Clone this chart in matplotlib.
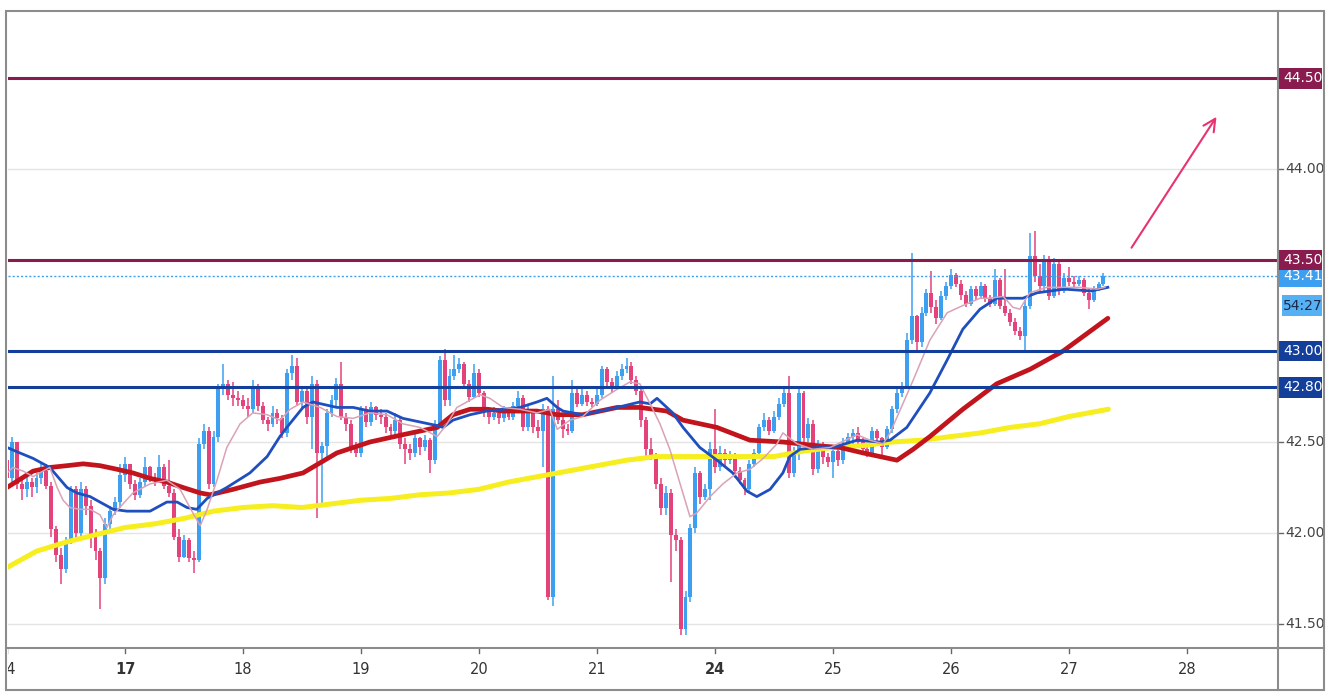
import matplotlib
matplotlib.use("Agg")
import matplotlib.pyplot as plt
from matplotlib.patches import Rectangle
from matplotlib.lines import Line2D
import numpy as np

# hourly candles, index 0 = first hour of the 14th
first_open = 42.40
closes = [
    # 14
    42.30, 42.50, 42.27, 42.24, 42.28, 42.25, 42.30, 42.34, 42.26, 42.02, 41.88, 41.80,
    41.96, 42.24, 42.00, 42.24, 42.15, 41.98, 41.90, 41.75, 42.05, 42.12, 42.17, 42.32,
    # 17
    42.38, 42.27, 42.21, 42.28, 42.36, 42.31, 42.29, 42.36, 42.26, 42.22, 41.98, 41.87,
    41.96, 41.86, 41.85, 42.49, 42.56, 42.27, 42.53, 42.80, 42.82, 42.76, 42.74, 42.73,
    # 18
    42.70, 42.68, 42.80, 42.70, 42.62, 42.60, 42.66, 42.63, 42.55, 42.88, 42.92, 42.72,
    42.78, 42.64, 42.82, 42.44, 42.48, 42.66, 42.73, 42.82, 42.64, 42.60, 42.47, 42.44,
    # 19
    42.68, 42.61, 42.69, 42.65, 42.64, 42.58, 42.56, 42.62, 42.49, 42.46, 42.44, 42.52,
    42.47, 42.51, 42.40, 42.60, 42.95, 42.73, 42.86, 42.90, 42.93, 42.82, 42.75, 42.88,
    # 20
    42.77, 42.67, 42.64, 42.66, 42.63, 42.68, 42.64, 42.70, 42.74, 42.58, 42.66, 42.58,
    42.56, 42.68, 41.65, 42.68, 42.62, 42.57, 42.56, 42.77, 42.71, 42.76, 42.72, 42.71,
    # 21
    42.76, 42.90, 42.83, 42.80, 42.86, 42.90, 42.92, 42.84, 42.78, 42.62, 42.46, 42.42,
    42.27, 42.14, 42.22, 41.99, 41.96, 41.47, 41.65, 42.03, 42.33, 42.20, 42.24, 42.46,
    # 24
    42.36, 42.44, 42.40, 42.42, 42.34, 42.29, 42.24, 42.38, 42.44, 42.58, 42.62, 42.56,
    42.64, 42.71, 42.77, 42.33, 42.44, 42.77, 42.52, 42.60, 42.35, 42.48, 42.42, 42.39,
    # 25
    42.45, 42.40, 42.49, 42.53, 42.55, 42.50, 42.46, 42.44, 42.56, 42.52, 42.47, 42.57,
    42.68, 42.77, 42.81, 43.06, 43.19, 43.05, 43.21, 43.32, 43.24, 43.18, 43.30, 43.36,
    # 26
    43.42, 43.37, 43.31, 43.26, 43.34, 43.30, 43.36, 43.29, 43.26, 43.39, 43.25, 43.21,
    43.16, 43.11, 43.08, 43.25, 43.52, 43.41, 43.36, 43.50, 43.30, 43.48, 43.33, 43.40,
    # 27
    43.38, 43.37, 43.39, 43.32, 43.28, 43.34, 43.37, 43.41,
]
highs = [
    42.45, 42.53, 42.50, 42.30, 42.32, 42.30, 42.33, 42.38, 42.38, 42.28, 42.04, 41.92,
    41.98, 42.26, 42.26, 42.28, 42.26, 42.18, 42.02, 41.92, 42.08, 42.15, 42.20, 42.38,
    42.42, 42.38, 42.29, 42.30, 42.42, 42.37, 42.33, 42.43, 42.38, 42.40, 42.24, 42.02,
    41.99, 41.97, 41.90, 42.52, 42.60, 42.58, 42.56, 42.82, 42.93, 42.84, 42.83, 42.78,
    42.76, 42.74, 42.84, 42.82, 42.72, 42.64, 42.70, 42.68, 42.65, 42.90, 42.98, 42.96,
    42.80, 42.79, 42.86, 42.84, 42.50, 42.68, 42.76, 42.85, 42.94, 42.66, 42.62, 42.50,
    42.70, 42.70, 42.72, 42.70, 42.68, 42.66, 42.60, 42.66, 42.63, 42.52, 42.49, 42.55,
    42.53, 42.54, 42.52, 42.62, 42.97, 43.01, 42.90, 42.98, 42.96, 42.94, 42.84, 42.93,
    42.90, 42.78, 42.69, 42.69, 42.68, 42.70, 42.69, 42.72, 42.78, 42.76, 42.70, 42.68,
    42.62, 42.71, 42.70, 42.86, 42.73, 42.66, 42.60, 42.84, 42.79, 42.80, 42.78, 42.74,
    42.79, 42.92, 42.91, 42.85, 42.89, 42.93, 42.96, 42.94, 42.86, 42.80, 42.64, 42.52,
    42.44, 42.30, 42.26, 42.24, 42.02, 41.98, 41.68, 42.05, 42.36, 42.34, 42.27, 42.50,
    42.68, 42.48, 42.46, 42.45, 42.44, 42.36, 42.30, 42.40, 42.46, 42.60, 42.66, 42.64,
    42.67, 42.74, 42.80, 42.86, 42.47, 42.80, 42.78, 42.63, 42.62, 42.51, 42.50, 42.44,
    42.48, 42.47, 42.52, 42.55, 42.57, 42.58, 42.52, 42.48, 42.58, 42.57, 42.53, 42.59,
    42.70, 42.79, 42.83, 43.10, 43.54, 43.20, 43.24, 43.34, 43.44, 43.28, 43.33, 43.38,
    43.45, 43.43, 43.39, 43.33, 43.36, 43.36, 43.38, 43.37, 43.31, 43.45, 43.40, 43.45,
    43.23, 43.18, 43.13, 43.28, 43.65, 43.66, 43.48, 43.53, 43.52, 43.51, 43.49, 43.43,
    43.46, 43.41, 43.41, 43.40, 43.34, 43.36, 43.38, 43.43,
]
lows = [
    42.25, 42.27, 42.24, 42.18, 42.20, 42.20, 42.22, 42.27, 42.24, 41.98, 41.84, 41.72,
    41.78, 41.94, 41.96, 41.96, 42.10, 41.92, 41.85, 41.58, 41.72, 42.02, 42.10, 42.14,
    42.28, 42.24, 42.18, 42.19, 42.26, 42.28, 42.26, 42.28, 42.24, 42.20, 41.96, 41.84,
    41.86, 41.84, 41.78, 41.84, 42.46, 42.24, 42.25, 42.50, 42.76, 42.73, 42.70, 42.70,
    42.68, 42.64, 42.66, 42.67, 42.60, 42.56, 42.58, 42.60, 42.52, 42.53, 42.84, 42.70,
    42.68, 42.60, 42.46, 42.08, 42.15, 42.42, 42.64, 42.70, 42.62, 42.56, 42.44, 42.42,
    42.42, 42.58, 42.59, 42.62, 42.60, 42.55, 42.52, 42.54, 42.46, 42.38, 42.40, 42.42,
    42.43, 42.45, 42.33, 42.38, 42.58, 42.70, 42.70, 42.84, 42.88, 42.80, 42.72, 42.74,
    42.75, 42.64, 42.60, 42.62, 42.60, 42.61, 42.62, 42.62, 42.68, 42.56, 42.56, 42.55,
    42.52, 42.36, 41.63, 41.60, 42.60, 42.52, 42.54, 42.55, 42.69, 42.70, 42.70, 42.69,
    42.70, 42.74, 42.80, 42.77, 42.79, 42.84, 42.88, 42.82, 42.76, 42.58, 42.42, 42.40,
    42.24, 42.10, 42.10, 41.73, 41.90, 41.44, 41.44, 41.62, 42.00, 42.16, 42.18, 42.18,
    42.33, 42.34, 42.36, 42.38, 42.30, 42.27, 42.21, 42.22, 42.36, 42.42, 42.56, 42.54,
    42.55, 42.62, 42.69, 42.30, 42.31, 42.40, 42.48, 42.50, 42.32, 42.33, 42.38, 42.36,
    42.30, 42.37, 42.38, 42.45, 42.49, 42.48, 42.44, 42.42, 42.43, 42.50, 42.43, 42.46,
    42.55, 42.66, 42.75, 42.79, 43.04, 42.99, 43.02, 43.19, 43.21, 43.15, 43.17, 43.28,
    43.34, 43.35, 43.28, 43.24, 43.25, 43.28, 43.29, 43.27, 43.24, 43.25, 43.23, 43.19,
    43.14, 43.09, 43.06, 42.99, 43.23, 43.38, 43.33, 43.33, 43.28, 43.29, 43.31, 43.32,
    43.36, 43.35, 43.36, 43.30, 43.23, 43.27, 43.33, 43.36,
]

# moving averages (candle index -> price)
yellow_idx = [0, 6, 12, 18, 24, 30, 36, 42, 48, 54, 60, 66, 72, 78, 84, 90, 96, 102, 108,
              114, 120, 126, 132, 138, 144, 150, 156, 162, 168, 174, 180, 186, 192, 198,
              204, 210, 216, 222, 224]
ma_yellow = [41.81, 41.90, 41.95, 41.99, 42.03, 42.05, 42.08, 42.12, 42.14, 42.15, 42.14,
             42.16, 42.18, 42.19, 42.21, 42.22, 42.24, 42.28, 42.31, 42.34, 42.37, 42.40,
             42.42, 42.42, 42.42, 42.42, 42.42, 42.45, 42.47, 42.48, 42.50, 42.51, 42.53,
             42.55, 42.58, 42.60, 42.64, 42.67, 42.68]
red_idx = [0, 5.3, 8.7, 12.2, 15.5, 18.9, 22.4, 25.6, 29.1, 32.5, 35.8, 39.3, 41.3, 46.0,
           51.5, 55.5, 60.2, 67.1, 73.8, 80.5, 87.5, 90.7, 94.2, 97.6, 100.9, 107.8,
           111.9, 117.1, 124.1, 128.7, 134.2, 137.5, 144.4, 151.1, 157.8, 164.7, 169.4,
           174.1, 181.0, 184.3, 187.7, 194.4, 201.3, 208.1, 214.8, 223.9]
ma_red = [42.25, 42.34, 42.36, 42.37, 42.38, 42.37, 42.35, 42.33, 42.30, 42.28, 42.25,
          42.22, 42.21, 42.24, 42.28, 42.30, 42.33, 42.44, 42.50, 42.54, 42.58, 42.65,
          42.68, 42.68, 42.67, 42.67, 42.65, 42.65, 42.69, 42.69, 42.67, 42.62, 42.58,
          42.51, 42.50, 42.48, 42.47, 42.44, 42.40, 42.46, 42.53, 42.68, 42.82, 42.90,
          43.00, 43.18]
blue_idx = [0, 2.6, 5.3, 8.7, 12.2, 14.2, 16.9, 18.9, 21.6, 24.4, 29.1, 32.5, 34.6, 36.6,
            38.6, 40.7, 44.7, 49.4, 52.9, 55.5, 56.9, 60.2, 62.2, 67.1, 70.4, 73.8, 77.3,
            80.5, 84.0, 87.5, 88.7, 90.7, 94.2, 97.6, 100.9, 104.3, 107.8, 109.8, 111.9,
            113.1, 117.1, 124.1, 128.7, 130.8, 132.2, 135.4, 137.5, 140.9, 144.4, 147.6,
            150.5, 152.5, 155.2, 157.8, 159.2, 161.3, 164.7, 168.0, 172.9, 177.5, 179.6,
            183.0, 187.7, 191.2, 194.4, 197.9, 201.3, 204.6, 206.6, 209.5, 215.0, 220.5,
            223.9]
ma_blue = [42.47, 42.44, 42.41, 42.36, 42.25, 42.22, 42.20, 42.17, 42.13, 42.12, 42.12,
           42.17, 42.17, 42.14, 42.13, 42.19, 42.25, 42.33, 42.42, 42.53, 42.58, 42.69,
           42.72, 42.69, 42.69, 42.67, 42.67, 42.63, 42.61, 42.59, 42.58, 42.62, 42.65,
           42.67, 42.68, 42.69, 42.72, 42.74, 42.69, 42.67, 42.65, 42.69, 42.72, 42.71,
           42.74, 42.66, 42.58, 42.47, 42.40, 42.33, 42.23, 42.20, 42.24, 42.33, 42.42,
           42.46, 42.47, 42.47, 42.51, 42.50, 42.51, 42.58, 42.77, 42.95, 43.12, 43.23,
           43.29, 43.29, 43.29, 43.32, 43.34, 43.33, 43.35]
pink_idx = [0, 1.2, 3.3, 5.3, 7.3, 8.7, 10.2, 11.4, 12.8, 14.8, 16.9, 18.9, 20.3, 21.6,
            23.6, 25.6, 29.1, 32.5, 35.2, 37.8, 39.3, 40.7, 42.7, 44.7, 47.4, 50.0, 52.9,
            55.5, 57.6, 60.2, 63.7, 67.1, 70.4, 73.8, 77.3, 80.5, 84.0, 87.5, 89.5, 91.5,
            94.2, 96.2, 98.2, 100.9, 104.3, 107.8, 110.4, 111.9, 114.5, 117.1, 120.6,
            124.1, 126.7, 128.7, 130.8, 132.8, 134.8, 136.9, 138.9, 140.3, 143.0, 145.6,
            148.5, 151.1, 153.8, 156.6, 157.8, 160.7, 163.9, 167.4, 172.9, 175.5, 178.2,
            179.6, 182.2, 184.3, 187.7, 191.2, 194.4, 197.9, 199.9, 202.6, 204.6, 206.0,
            208.0, 211.5, 214.8, 218.2, 221.7, 223.3]
ma_pink = [42.33, 42.36, 42.34, 42.31, 42.34, 42.36, 42.25, 42.18, 42.14, 42.13, 42.13,
           42.10, 42.03, 42.10, 42.16, 42.22, 42.27, 42.29, 42.24, 42.11, 42.04, 42.13,
           42.29, 42.47, 42.60, 42.66, 42.65, 42.62, 42.68, 42.72, 42.69, 42.64, 42.63,
           42.66, 42.65, 42.60, 42.58, 42.53, 42.60, 42.69, 42.73, 42.76, 42.74, 42.69,
           42.68, 42.66, 42.68, 42.57, 42.62, 42.64, 42.73, 42.79, 42.83, 42.82, 42.71,
           42.60, 42.46, 42.27, 42.09, 42.11, 42.20, 42.27, 42.33, 42.35, 42.41, 42.49,
           42.55, 42.49, 42.46, 42.47, 42.54, 42.51, 42.49, 42.55, 42.71, 42.84, 43.06,
           43.21, 43.25, 43.29, 43.29, 43.30, 43.24, 43.23, 43.32, 43.35, 43.35, 43.35,
           43.34, 43.35]

day_labels = ["14", "17", "18", "19", "20", "21", "24", "25", "26", "27", "28"]
day_start = [0, 24, 48, 72, 96, 120, 144, 168, 192, 216, 240]
week_start = ["17", "24"]

levels_red = [44.50, 43.50]
levels_blue = [43.00, 42.80]
plain_ticks = [44.00, 42.50, 42.00, 41.50]
grid_levels = [41.5, 42.0, 42.5, 43.0, 43.5, 44.0, 44.5]
last_price = 43.41
countdown = "54:27"
arrow_from = (228.4, 43.555)
arrow_to = (246.3, 44.30)

up_col = "#3d9ff0"
down_col = "#e4427a"
maroon = "#8a1b4f"
navy = "#133f9a"
fonts = ["Liberation Sans Narrow", "DejaVu Sans"]

W, H = 1332, 698
fig = plt.figure(figsize=(W / 100, H / 100), dpi=100)
fig.patch.set_facecolor("white")


def fx(px):
    return px / W


def fy(py):
    return 1 - py / H


ax = fig.add_axes([fx(8), fy(648), fx(1278) - fx(8), fy(12) - fy(648)])
pax = fig.add_axes([fx(1278), fy(648), fx(1323) - fx(1278), fy(12) - fy(648)], sharey=ax)
tax = fig.add_axes([fx(8), fy(690), fx(1278) - fx(8), fy(648) - fy(690)], sharex=ax)

ax.set_xlim(0.2, 258.5)
ax.set_ylim(41.368, 44.863)

for a in (ax, pax, tax):
    a.set_axis_off()

# grid
for g in grid_levels:
    ax.axhline(g, color="#e4e4e4", lw=1, zorder=0)

# candles
c = np.array(closes)
o = np.concatenate([[first_open], c[:-1]])
hi = np.maximum(np.array(highs), np.maximum(o, c))
lo = np.minimum(np.array(lows), np.minimum(o, c))
idx = np.arange(len(c))
cols = np.where(c >= o, up_col, down_col)
ax.vlines(idx, lo, hi, colors=cols, lw=1.1, zorder=2)
body = np.maximum(np.abs(c - o), 0.01)
ax.bar(idx, body, bottom=np.minimum(o, c), width=0.8, color=cols, zorder=2)

# moving averages
ax.plot(yellow_idx, ma_yellow, color="#f6ee1e", lw=3.6, solid_capstyle="round", zorder=3)
ax.plot(red_idx, ma_red, color="#c2141c", lw=3.4, solid_capstyle="round",
        solid_joinstyle="round", zorder=3)
ax.plot(blue_idx, ma_blue, color="#1f4fbe", lw=2.0, solid_joinstyle="round", zorder=3)
ax.plot(pink_idx, ma_pink, color="#d9a2b6", lw=1.1, zorder=3)

# levels
for lv in levels_red:
    ax.axhline(lv, color=maroon, lw=2.2, zorder=4)
for lv in levels_blue:
    ax.axhline(lv, color=navy, lw=2.2, zorder=4)
ax.axhline(last_price, color=up_col, lw=1, ls=(0, (1.5, 1.5)), zorder=4)

ax.annotate("", xy=arrow_to, xytext=arrow_from,
            arrowprops=dict(arrowstyle="->", color="#e8336f", lw=1.5, mutation_scale=22),
            zorder=5)

# price scale
bh = 0.115
for t in plain_ticks:
    pax.plot([0, 0.1], [t, t], color="#666", lw=1, transform=pax.get_yaxis_transform())
    pax.text(0.16, t, f"{t:.2f}", transform=pax.get_yaxis_transform(), ha="left",
             va="center", fontsize=10, color="#444", family=fonts)


def box(price, text, fc, tc, y_off=0.0, x0=0.0):
    tr = pax.get_yaxis_transform()
    pax.add_patch(Rectangle((x0, price + y_off - bh / 2), 0.98 - x0, bh, transform=tr,
                            facecolor=fc, edgecolor="none", clip_on=False))
    pax.text(0.55, price + y_off, text, transform=tr, ha="center", va="center",
             fontsize=10, color=tc, family=fonts)


box(last_price, f"{last_price:.2f}", up_col, "white")
box(last_price, countdown, "#55b1f3", "#1d2a4a", y_off=-0.16, x0=0.08)
for lv in levels_red:
    box(lv, f"{lv:.2f}", maroon, "white")
for lv in levels_blue:
    box(lv, f"{lv:.2f}", navy, "white")

# time scale
tax.set_ylim(0, 1)
for d, lab in zip(day_start, day_labels):
    tax.plot([d, d], [1, 0.88], color="#666", lw=1)
    tax.text(d, 0.5, lab, ha="center", va="center", fontsize=10.5, color="#333",
             family=fonts, fontweight="bold" if lab in week_start else "normal",
             clip_on=True)

# frame
frame_col = "#8c8c8c"
fig.add_artist(Rectangle((fx(6), fy(690)), fx(1324) - fx(6), fy(11) - fy(690),
                         transform=fig.transFigure, fill=False, edgecolor=frame_col, lw=1.5))
fig.add_artist(Line2D([fx(6), fx(1324)], [fy(648), fy(648)], transform=fig.transFigure,
                      color=frame_col, lw=1.5))
fig.add_artist(Line2D([fx(1278), fx(1278)], [fy(11), fy(690)], transform=fig.transFigure,
                      color=frame_col, lw=1.5))

fig.savefig("out.png", dpi=100, facecolor="white")
